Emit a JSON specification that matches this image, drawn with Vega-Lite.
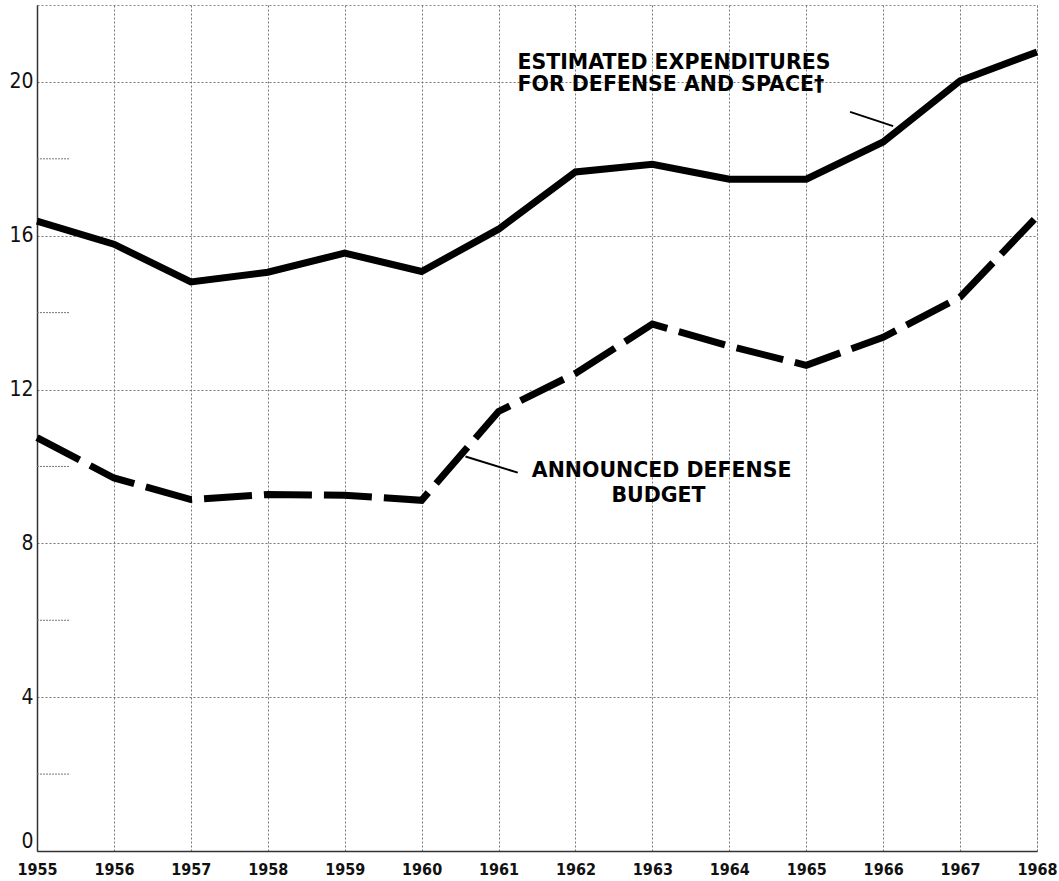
{
  "$schema": "https://vega.github.io/schema/vega-lite/v6.json",
  "width": 1000,
  "height": 846,
  "autosize": "none",
  "padding": {"left": 37, "top": 5, "right": 22, "bottom": 30},
  "background": "white",
  "config": {
    "view": {"stroke": "#888", "strokeDash": [2, 2], "strokeWidth": 1}
  },
  "datasets": {
    "series": [
      {"year": 1955, "value": 16.38, "series": "Estimated expenditures for defense and space"},
      {"year": 1956, "value": 15.78, "series": "Estimated expenditures for defense and space"},
      {"year": 1957, "value": 14.8, "series": "Estimated expenditures for defense and space"},
      {"year": 1958, "value": 15.05, "series": "Estimated expenditures for defense and space"},
      {"year": 1959, "value": 15.55, "series": "Estimated expenditures for defense and space"},
      {"year": 1960, "value": 15.07, "series": "Estimated expenditures for defense and space"},
      {"year": 1961, "value": 16.17, "series": "Estimated expenditures for defense and space"},
      {"year": 1962, "value": 17.66, "series": "Estimated expenditures for defense and space"},
      {"year": 1963, "value": 17.86, "series": "Estimated expenditures for defense and space"},
      {"year": 1964, "value": 17.47, "series": "Estimated expenditures for defense and space"},
      {"year": 1965, "value": 17.47, "series": "Estimated expenditures for defense and space"},
      {"year": 1966, "value": 18.44, "series": "Estimated expenditures for defense and space"},
      {"year": 1967, "value": 20.03, "series": "Estimated expenditures for defense and space"},
      {"year": 1968, "value": 20.78, "series": "Estimated expenditures for defense and space"},
      {"year": 1955, "value": 10.75, "series": "Announced defense budget"},
      {"year": 1956, "value": 9.7, "series": "Announced defense budget"},
      {"year": 1957, "value": 9.14, "series": "Announced defense budget"},
      {"year": 1958, "value": 9.27, "series": "Announced defense budget"},
      {"year": 1959, "value": 9.25, "series": "Announced defense budget"},
      {"year": 1960, "value": 9.12, "series": "Announced defense budget"},
      {"year": 1961, "value": 11.43, "series": "Announced defense budget"},
      {"year": 1962, "value": 12.42, "series": "Announced defense budget"},
      {"year": 1963, "value": 13.7, "series": "Announced defense budget"},
      {"year": 1964, "value": 13.13, "series": "Announced defense budget"},
      {"year": 1965, "value": 12.63, "series": "Announced defense budget"},
      {"year": 1966, "value": 13.36, "series": "Announced defense budget"},
      {"year": 1967, "value": 14.4, "series": "Announced defense budget"},
      {"year": 1968, "value": 16.5, "series": "Announced defense budget"}
    ],
    "labels": [
      {"year": 1963.28, "value": 20.5, "label": "ESTIMATED EXPENDITURES"},
      {"year": 1963.24, "value": 19.92, "label": "FOR DEFENSE AND SPACE†"},
      {"year": 1963.12, "value": 9.88, "label": "ANNOUNCED DEFENSE"},
      {"year": 1963.08, "value": 9.22, "label": "BUDGET"}
    ],
    "leaders": [
      {"year": 1965.57, "value": 19.22, "year2": 1966.13, "value2": 18.85},
      {"year": 1960.57, "value": 10.26, "year2": 1961.25, "value2": 9.84}
    ],
    "minor": [
      {"value": 2}, {"value": 6}, {"value": 10}, {"value": 14}, {"value": 18}
    ]
  },
  "layer": [
    {
      "data": {"name": "minor"},
      "mark": {"type": "rule", "color": "#777", "strokeWidth": 1, "strokeDash": [2, 1]},
      "encoding": {
        "x": {
          "datum": 1955,
          "type": "quantitative",
          "title": null,
          "scale": {"domain": [1955, 1968], "nice": false, "zero": false},
          "axis": {
            "values": [1955, 1956, 1957, 1958, 1959, 1960, 1961, 1962, 1963, 1964, 1965, 1966, 1967, 1968],
            "format": "d",
            "title": null,
            "grid": true,
            "gridColor": "#777",
            "gridDash": [2, 2],
            "gridWidth": 1,
            "ticks": false,
            "domainColor": "#333",
            "domainWidth": 1.5,
            "labelFont": "DejaVu Sans Condensed, Liberation Sans Narrow, DejaVu Sans",
            "labelFontWeight": "bold",
            "labelFontSize": 16,
            "labelColor": "#111",
            "labelPadding": 10,
            "labelFlush": false,
            "labelOverlap": false
          }
        },
        "x2": {"datum": 1955.42},
        "y": {
          "field": "value",
          "type": "quantitative",
          "title": null,
          "scale": {"domain": [0, 22], "nice": false, "zero": true},
          "axis": {
            "values": [0, 4, 8, 12, 16, 20],
            "title": null,
            "grid": true,
            "gridColor": "#777",
            "gridDash": [2, 2],
            "gridWidth": 1,
            "ticks": false,
            "domainColor": "#333",
            "domainWidth": 1.5,
            "labelFont": "Liberation Sans Narrow, DejaVu Sans Condensed, sans-serif",
            "labelFontSize": 21,
            "labelColor": "#111",
            "labelPadding": 4,
            "labelBaseline": {"condition": {"test": "datum.value === 0", "value": "bottom"}, "value": "middle"},
            "labelFlush": false
          }
        }
      }
    },
    {
      "data": {"name": "series"},
      "transform": [{"filter": "datum.series === 'Estimated expenditures for defense and space'"}],
      "mark": {"type": "line", "color": "#000", "strokeWidth": 7, "strokeJoin": "miter", "strokeCap": "butt"},
      "encoding": {
        "x": {"field": "year", "type": "quantitative", "title": null},
        "y": {"field": "value", "type": "quantitative", "title": null}
      }
    },
    {
      "data": {"name": "series"},
      "transform": [{"filter": "datum.series === 'Announced defense budget'"}],
      "mark": {"type": "line", "color": "#000", "strokeWidth": 7, "strokeDash": [48, 12], "strokeJoin": "miter", "strokeCap": "butt"},
      "encoding": {
        "x": {"field": "year", "type": "quantitative", "title": null},
        "y": {"field": "value", "type": "quantitative", "title": null}
      }
    },
    {
      "data": {"name": "leaders"},
      "mark": {"type": "rule", "color": "#000", "strokeWidth": 2},
      "encoding": {
        "x": {"field": "year", "type": "quantitative", "title": null},
        "y": {"field": "value", "type": "quantitative", "title": null},
        "x2": {"field": "year2"},
        "y2": {"field": "value2"}
      }
    },
    {
      "data": {"name": "labels"},
      "mark": {"type": "text", "font": "DejaVu Sans", "fontWeight": "bold", "fontSize": 20.5, "align": "center", "baseline": "middle", "color": "#000"},
      "encoding": {
        "x": {"field": "year", "type": "quantitative", "title": null},
        "y": {"field": "value", "type": "quantitative", "title": null},
        "text": {"field": "label"}
      }
    }
  ]
}
